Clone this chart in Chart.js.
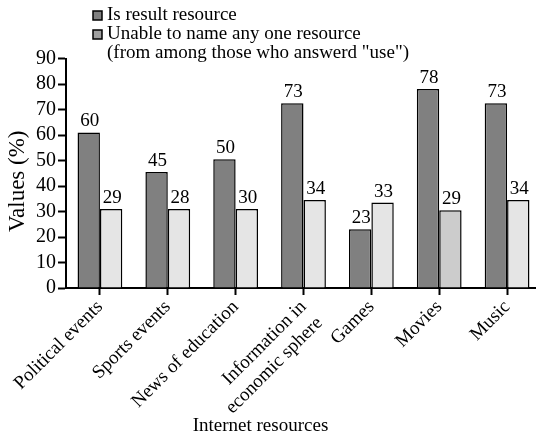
<!DOCTYPE html>
<html>
<head>
<meta charset="utf-8">
<script src="https://cdn.jsdelivr.net/npm/chart.js@4/dist/chart.umd.min.js"></script>
<style>
  html, body { margin: 0; padding: 0; background: #fff; }
  #wrap { width: 536px; height: 438px; overflow: hidden; position: relative; }
  canvas { display: block; }
</style>
</head>
<body>
<div id="wrap"><canvas id="chart" width="544" height="438"></canvas></div>
<script>
// categories on the x axis
const categories = ['Political events', 'Sports events', 'News of education',
  ['Information in', 'economic sphere'], 'Games', 'Movies', 'Music'];

// bar heights as drawn in the picture (%)
const resultValues = [61, 45.5, 50.5, 72.5, 23, 78, 72.5];
const unableValues = [31, 31, 31, 34.5, 33.5, 30.5, 34.5];

// numbers printed above the bars
const resultLabels = [60, 45, 50, 73, 23, 78, 73];
const unableLabels = [29, 28, 30, 34, 33, 29, 34];

const seriesNames = ['Is result resource',
  ['Unable to name any one resource', '(from among those who answerd "use")']];

const yTicks = [0, 10, 20, 30, 40, 50, 60, 70, 80, 90];

const xTitle = 'Internet resources';
const yTitle = 'Values (%)';

const FONT = "'Liberation Serif', 'Times New Roman', serif";

// light bars: the Movies one is a bit darker in the original
const unableColors = unableValues.map((v, i) => categories[i] === 'Movies' ? '#cccccc' : '#e5e5e5');

// value labels above each bar
const valueLabels = {
  id: 'valueLabels',
  afterDatasetsDraw(chart) {
    const ctx = chart.ctx;
    const texts = [resultLabels, unableLabels];
    ctx.save();
    ctx.font = '19px ' + FONT;
    ctx.fillStyle = '#000';
    ctx.textAlign = 'center';
    ctx.textBaseline = 'alphabetic';
    chart.data.datasets.forEach((ds, di) => {
      chart.getDatasetMeta(di).data.forEach((bar, i) => {
        ctx.fillText(String(texts[di][i]), bar.x + 1, bar.y - 6);
      });
    });
    ctx.restore();
  }
};

// legend in the top left, with a two line second entry
const boxLegend = {
  id: 'boxLegend',
  afterDraw(chart) {
    const ctx = chart.ctx;
    const swatches = ['#808080', '#a0a0a0'];
    ctx.save();
    ctx.font = '19px ' + FONT;
    ctx.textBaseline = 'middle';
    let y = 15;
    seriesNames.forEach((name, i) => {
      ctx.fillStyle = swatches[i];
      ctx.fillRect(93, y - 4, 9, 9);
      ctx.strokeStyle = '#000';
      ctx.lineWidth = 1.5;
      ctx.strokeRect(93, y - 4, 9, 9);
      ctx.fillStyle = '#000';
      const lines = Array.isArray(name) ? name : [name];
      lines.forEach(line => {
        ctx.fillText(line, 107, y);
        y += 19;
      });
    });
    ctx.restore();
  }
};

// axis titles: the original places them off the scale centres (picture is cropped)
const axisTitles = {
  id: 'axisTitles',
  afterDraw(chart) {
    const ctx = chart.ctx;
    const area = chart.chartArea;
    ctx.save();
    ctx.fillStyle = '#000';
    ctx.textAlign = 'center';
    ctx.textBaseline = 'middle';
    ctx.font = '19px ' + FONT;
    ctx.fillText(xTitle, 260.5, 426);
    ctx.translate(18, (area.top + area.bottom) / 2 + 8);
    ctx.rotate(-Math.PI / 2);
    ctx.font = '23px ' + FONT;
    ctx.fillText(yTitle, 0, 0);
    ctx.restore();
  }
};

new Chart(document.getElementById('chart'), {
  type: 'bar',
  data: {
    labels: categories,
    datasets: [
      {
        label: 'Is result resource',
        data: resultValues,
        backgroundColor: '#808080',
        borderColor: '#000',
        borderWidth: 1.5,
        categoryPercentage: 0.66,
        barPercentage: 1
      },
      {
        label: 'Unable to name any one resource',
        data: unableValues,
        backgroundColor: unableColors,
        borderColor: '#000',
        borderWidth: 1.5,
        categoryPercentage: 0.66,
        barPercentage: 1
      }
    ]
  },
  options: {
    responsive: false,
    animation: false,
    layout: { padding: { top: 58.5, right: 3, left: 0, bottom: 0 } },
    plugins: {
      legend: { display: false },
      tooltip: { enabled: false }
    },
    scales: {
      x: {
        offset: true,
        grid: { offset: false, drawOnChartArea: false, tickLength: 7, tickWidth: 2, tickColor: '#000' },
        border: { color: '#000', width: 2 },
        ticks: {
          autoSkip: false, maxRotation: 45, minRotation: 45, padding: 1,
          color: '#000', font: { family: FONT, size: 19 }
        },
        afterFit(scale) { scale.height = 150; }
      },
      y: {
        min: 0, max: 90,
        afterBuildTicks(scale) { scale.ticks = yTicks.map(v => ({ value: v })); },
        grid: { drawOnChartArea: false, tickLength: 8, tickWidth: 2, tickColor: '#000' },
        border: { color: '#000', width: 2 },
        ticks: { autoSkip: false, padding: 2, color: '#000', font: { family: FONT, size: 20 } },
        afterFit(scale) { scale.width = 66; }
      }
    }
  },
  plugins: [valueLabels, boxLegend, axisTitles]
});
</script>
</body>
</html>
